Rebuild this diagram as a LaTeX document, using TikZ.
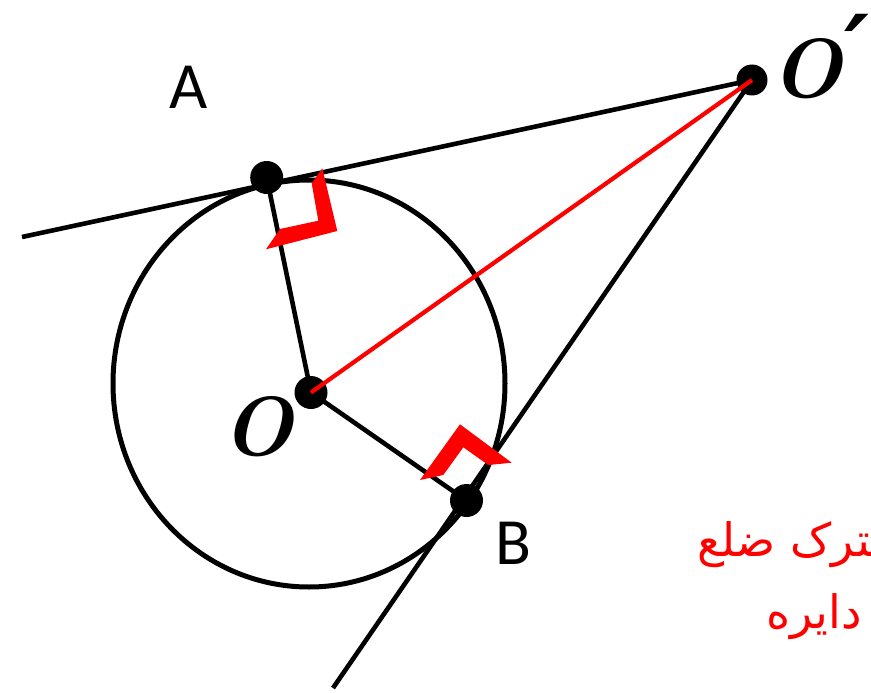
\documentclass[tikz,border=0pt]{standalone}
\usepackage{fontspec}
\setmainfont{Carlito}
\newfontfamily\arabicfont[Script=Arabic]{DejaVu Sans}
\newfontfamily\lmfont{Latin Modern Roman}
\newfontfamily\primefont{DejaVu Serif}
\TeXXeTstate=1
\begin{document}
\begin{tikzpicture}[x=1pt,y=-1pt,
  blk/.style={line width=4.6pt,black},
  redl/.style={line width=4.2pt,red},
  dot/.style={circle,fill=black,inner sep=0pt,minimum size=33pt},
  lbl/.style={font=\fontsize{66}{72}\selectfont,inner sep=0pt},
  olbl/.style={font=\lmfont\bfseries\itshape\fontsize{84}{90}\selectfont,inner sep=0pt},
  ptxt/.style={font=\arabicfont\fontsize{46}{56}\selectfont,text=red,inner sep=0pt}]
\useasboundingbox (0,0) rectangle (871,693);
\clip (0,0) rectangle (871,693);
\coordinate (Oc) at (309,383.5);
\draw[line width=5pt] (Oc) ellipse [x radius=196, y radius=203.5];
\coordinate (L1) at (22,237);
\coordinate (L2) at (333,688);
\node[dot] (A) at (266.7,177.5) {};
\node[dot] (B) at (466.5,500.5) {};
\node[dot] (O) at (311,392.5) {};
\node[dot,minimum size=31pt] (Op) at (752,80) {};
\draw[blk] (L1) -- (Op.center);
\draw[blk] (Op.center) -- (L2);
\draw[blk] (A.center) -- (O.center) -- (B.center);
\draw[redl] (O.center) -- (Op.center);
\fill[red] (322.3,168.3) -- (337.3,231) -- (266,249.3) -- (280,229) -- (318.3,220.7) -- (311.7,183.3) -- cycle;
\fill[red] (420,480) -- (460,424.3) -- (511.7,462.7) -- (488.3,465) -- (463.3,447.3) -- (443.3,475) -- cycle;
\node[lbl] (la) at (189,87) {A};
\node[lbl] (lb) at (513,543) {B};
\node[olbl] (lo) at (257,427) {O};
\node[olbl,anchor=west] (lop) at (770,57) {O\kern2pt\raisebox{14pt}{\primefont\bfseries\fontsize{95}{95}\selectfont ′}};
\node[ptxt,anchor=west] (t1) at (697,545) {\beginR مشترک ضلع\endR};
\node[ptxt,anchor=east] (t2) at (862,617) {\beginR دایره\endR};
\end{tikzpicture}
\end{document}
